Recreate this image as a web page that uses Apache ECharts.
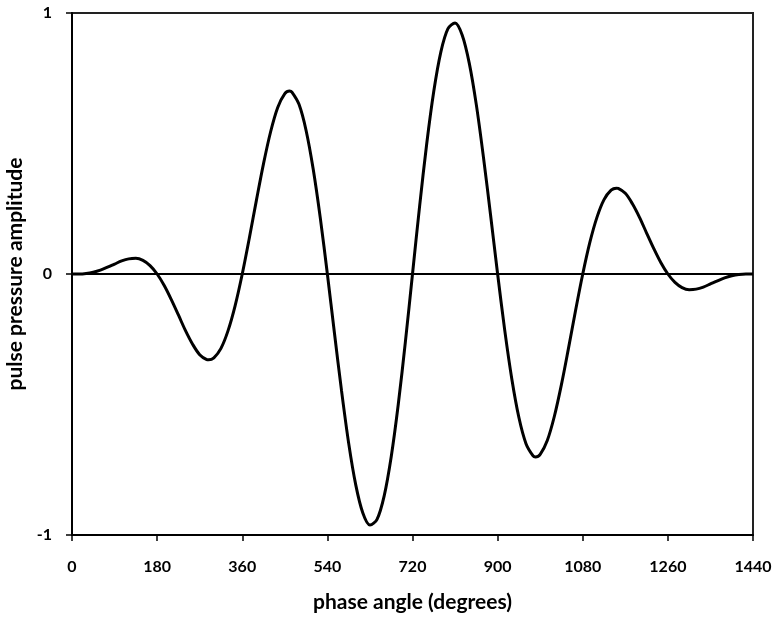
<!DOCTYPE html>
<html>
<head>
<meta charset="utf-8">
<script src="https://cdn.jsdelivr.net/npm/echarts@6/dist/echarts.min.js"></script>
<style>
  html, body { margin: 0; padding: 0; background: #fff; }
  #chart { width: 775px; height: 617px; }
</style>
</head>
<body>
<div id="chart"></div>
<script>
// phase angle (degrees), read every 15 degrees plus the lobe extremes
const phase = [
  0, 15, 30, 45, 60, 75, 90, 105, 120, 135, 150, 165,
  180, 195, 210, 225, 240, 255, 270, 285, 289, 300, 315, 330, 345,
  360, 375, 390, 405, 420, 435, 450, 460, 465, 480, 495, 510, 525,
  540, 555, 570, 585, 600, 615, 630, 645, 660, 675, 690, 705,
  720, 735, 750, 765, 780, 795, 810, 825, 840, 855, 870, 885,
  900, 915, 930, 945, 960, 975, 980, 990, 1005, 1020, 1035, 1050, 1065,
  1080, 1095, 1110, 1125, 1140, 1151, 1155, 1170, 1185, 1200, 1215, 1230, 1245,
  1260, 1275, 1290, 1305, 1320, 1335, 1350, 1365, 1380, 1395, 1410, 1425,
  1440
]

// pulse pressure amplitude at each phase angle
const amplitude = [
  0, 0.000, 0.002, 0.007, 0.015, 0.026, 0.038, 0.050, 0.058, 0.060, 0.052, 0.032,
  0, -0.044, -0.098, -0.157, -0.217, -0.269, -0.309, -0.328, -0.329, -0.321, -0.285, -0.217, -0.121,
  0, 0.138, 0.283, 0.423, 0.545, 0.638, 0.691, 0.701, 0.697, 0.650, 0.550, 0.402, 0.215,
  0, -0.227, -0.448, -0.648, -0.808, -0.916, -0.962, -0.940, -0.851, -0.700, -0.498, -0.259,
  0, 0.259, 0.498, 0.700, 0.851, 0.940, 0.962, 0.916, 0.808, 0.648, 0.448, 0.227,
  0, -0.215, -0.402, -0.550, -0.650, -0.697, -0.701, -0.691, -0.638, -0.545, -0.423, -0.283, -0.138,
  0, 0.121, 0.217, 0.285, 0.321, 0.329, 0.328, 0.309, 0.269, 0.217, 0.157, 0.098, 0.044,
  0, -0.032, -0.052, -0.060, -0.058, -0.050, -0.038, -0.026, -0.015, -0.007, -0.002, 0.000,
  0
]

const xTicks = [0, 180, 360, 540, 720, 900, 1080, 1260, 1440]
const yTicks = [-1, 0, 1]

const font = 'Lato, "Open Sans", sans-serif'

const chart = echarts.init(document.getElementById('chart'), null, { renderer: 'canvas' })

const option = {
  backgroundColor: '#fff',
  animation: false,
  grid: {
    left: 72,
    right: 22,
    top: 13,
    bottom: 82,
    outerBoundsMode: 'none',
    containLabel: false,
    show: true,
    borderColor: '#222',
    borderWidth: 2,
    backgroundColor: 'transparent'
  },
  xAxis: {
    type: 'value',
    min: xTicks[0],
    max: xTicks[xTicks.length - 1],
    interval: 180,
    name: 'phase angle (degrees)',
    nameLocation: 'middle',
    nameGap: 57,
    nameTextStyle: { fontFamily: font, fontWeight: 'bold', fontSize: 21, color: '#000' },
    axisLine: { show: true, onZero: false, lineStyle: { color: '#000', width: 2 } },
    axisTick: { show: true, inside: false, length: 6, lineStyle: { color: '#000', width: 1.5 } },
    axisLabel: {
      margin: 24, fontFamily: font, fontWeight: 'bold', fontSize: 16, color: '#000',
      formatter: v => String(v)
    },
    splitLine: { show: false }
  },
  yAxis: {
    type: 'value',
    min: yTicks[0],
    max: yTicks[yTicks.length - 1],
    interval: 1,
    name: 'pulse pressure amplitude',
    nameLocation: 'middle',
    nameGap: 42,
    nameTextStyle: { fontFamily: font, fontWeight: 'bold', fontSize: 21, color: '#000' },
    axisLine: { show: true, onZero: false, lineStyle: { color: '#000', width: 2 } },
    axisTick: { show: true, inside: false, length: 6, lineStyle: { color: '#000', width: 1.5 } },
    axisLabel: {
      margin: 20, fontFamily: font, fontWeight: 'bold', fontSize: 16, color: '#000',
      formatter: v => String(v)
    },
    splitLine: { show: false }
  },
  series: [
    {
      type: 'line',
      data: phase.map((p, i) => [p, amplitude[i]]),
      smooth: 0.33,
      showSymbol: false,
      lineStyle: { color: '#000', width: 3 },
      markLine: {
        silent: true,
        symbol: 'none',
        label: { show: false },
        lineStyle: { color: '#000', width: 2, type: 'solid' },
        data: [{ yAxis: 0 }]
      }
    }
  ]
}

chart.setOption(option)
</script>
</body>
</html>
